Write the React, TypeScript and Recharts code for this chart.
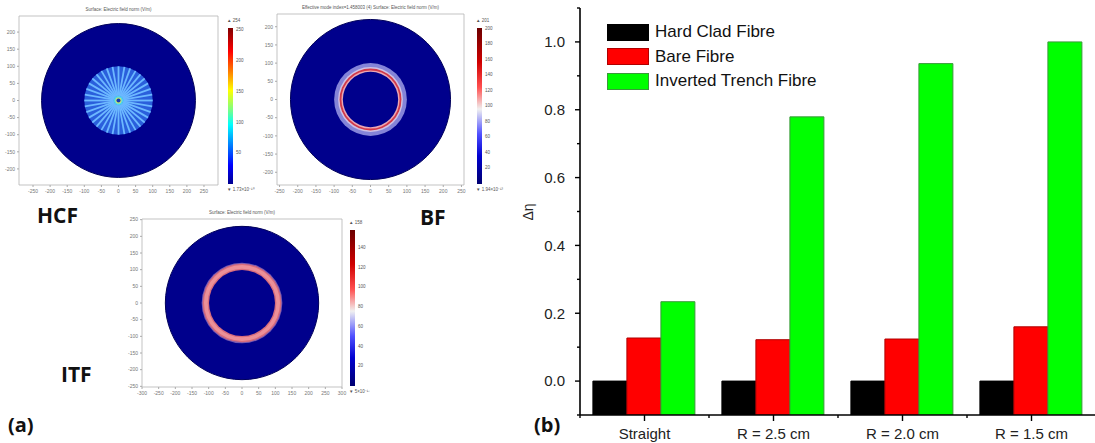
import { BarChart, Bar, XAxis, YAxis, Legend, ScatterChart, Scatter, ReferenceArea } from 'recharts'

// ---- panel (b) data ----
const categories = ['Straight', 'R = 2.5 cm', 'R = 2.0 cm', 'R = 1.5 cm']
const hardCladFibre = [0, 0, 0, 0]
const bareFibre = [0.127, 0.122, 0.124, 0.16]
const invertedTrenchFibre = [0.234, 0.779, 0.936, 1.0]
const yMajorTicks = [0, 0.2, 0.4, 0.6, 0.8, 1.0]
const yMinorTicks = [-0.1, 0.1, 0.3, 0.5, 0.7, 0.9, 1.1]
const Y_MIN = -0.1
const Y_MAX = 1.1

// ---- panel (a) field maps: concentric layers in µm ----
const hcfLayers = [
  { x: 0, y: 0, r: 225, fill: '#00008c', stroke: '#00005a' },
  { x: 0, y: 0, r: 100, fill: '#2a5fdc' },
  { x: 0, y: 0, r: 100, r0: 14, spokes: 36, stroke: '#6cb8ff' },
  { x: 0, y: 0, r: 14, fill: '#4fd0f0' },
  { x: 0, y: 0, r: 9, fill: '#c8ec70' },
  { x: 0, y: 0, r: 6, fill: '#1838b0' },
]
const bfLayers = [
  { x: 0, y: 0, r: 220, fill: '#00008c', stroke: '#00005a' },
  { x: 0, y: 0, r: 100, fill: '#8484d8' },
  { x: 0, y: 0, r: 89, fill: '#cfc0e4' },
  { x: 0, y: 0, r: 85, fill: '#d23848' },
  { x: 0, y: 0, r: 80, fill: '#eaa6b4' },
  { x: 0, y: 0, r: 76, fill: '#00008c' },
]
const itfLayers = [
  { x: 0, y: 0, r: 230, fill: '#00008c', stroke: '#00005a' },
  { x: 0, y: 0, r: 121, fill: '#7a5ab0' },
  { x: 0, y: 0, r: 118, fill: '#d86c7c' },
  { x: 0, y: 0, r: 114, fill: '#ec9098' },
  { x: 0, y: 0, r: 103, fill: '#d86c7c' },
  { x: 0, y: 0, r: 99, fill: '#00008c' },
]
const ticks250 = [-250, -200, -150, -100, -50, 0, 50, 100, 150, 200, 250]
const ticks200 = [-200, -150, -100, -50, 0, 50, 100, 150, 200]
const ticks300 = [-300, -250, -200, -150, -100, -50, 0, 50, 100, 150, 200, 250, 300]

const hcfBarTicks = [250, 200, 150, 100, 50]
const bfBarTicks = [200, 180, 160, 140, 120, 100, 80, 60, 40, 20]
const itfBarTicks = [140, 120, 100, 80, 60, 40, 20]

const series = [
  { key: 'hcf', name: 'Hard Clad Fibre', fill: '#000000', stroke: '#000000' },
  { key: 'bf', name: 'Bare Fibre', fill: '#ff0000', stroke: '#b00000' },
  { key: 'itf', name: 'Inverted Trench Fibre', fill: '#00ff00', stroke: '#3a9a3a' },
]

const rows = categories.map((name, i) => ({
  name,
  hcf: hardCladFibre[i],
  bf: bareFibre[i],
  itf: invertedTrenchFibre[i],
}))

const CHART_W = 556
const CHART_H = 443
const MARGIN = { top: 8, right: 0, left: 8, bottom: 8 }
const Y_AXIS_W = 32
const BAND = (CHART_W - MARGIN.left - MARGIN.right - Y_AXIS_W) / categories.length
const FONT = '"Liberation Sans", Arial, sans-serif'

function YTick(props: any) {
  const { x, y, payload } = props
  const v = payload.value
  const major = yMajorTicks.some((t) => Math.abs(t - v) < 1e-9)
  const ax = x + 15
  return (
    <g>
      <line x1={ax - (major ? 5 : 3)} x2={ax} y1={y} y2={y} stroke="#000" strokeWidth={1.4} />
      {major && (
        <text x={x} y={y} dy="0.35em" textAnchor="end" fontSize={15} fill="#222" fontFamily={FONT}>
          {v.toFixed(1)}
        </text>
      )}
    </g>
  )
}

function XTick(props: any) {
  const { x, y, payload, index } = props
  const ay = y - 13
  const half = BAND / 2
  return (
    <g>
      <line x1={x} x2={x} y1={ay} y2={ay + 6} stroke="#000" strokeWidth={1.4} />
      <line x1={x - half} x2={x - half} y1={ay} y2={ay + 3} stroke="#000" strokeWidth={1.4} />
      {index === categories.length - 1 && (
        <line x1={x + half} x2={x + half} y1={ay} y2={ay + 3} stroke="#000" strokeWidth={1.4} />
      )}
      <text x={x} y={y} dy="0.71em" textAnchor="middle" fontSize={15} fill="#222" fontFamily={FONT}>
        {payload.value}
      </text>
    </g>
  )
}

function LegendBox(props: any) {
  const items = [...(props.payload || [])].sort(
    (a: any, b: any) =>
      series.findIndex((s) => s.name === a.value) - series.findIndex((s) => s.name === b.value)
  )
  return (
    <div style={{ fontFamily: FONT, fontSize: 17, color: '#111' }}>
      {items.map((p: any, i: number) => {
        const s = series.find((d) => d.name === p.value)
        return (
          <div key={i} style={{ display: 'flex', alignItems: 'center', height: 24.5 }}>
            <span
              style={{
                display: 'inline-block',
                width: 40,
                height: 15,
                background: p.color,
                border: `1px solid ${s ? s.stroke : '#333'}`,
                marginRight: 6,
              }}
            />
            <span>{p.value}</span>
          </div>
        )
      })}
    </div>
  )
}

function Colorbar({ left, top, height, gradient, max, ticks, maxLabel, minLabel }: any) {
  return (
    <div style={{ position: 'absolute', left, top: top - 10, fontFamily: FONT, fontSize: 4.5, color: '#555' }}>
      <div style={{ position: 'absolute', left: -1, top: 0, whiteSpace: 'nowrap' }}>{'\u25B2 ' + maxLabel}</div>
      <div style={{ position: 'absolute', left: 0, top: 10, width: 5, height, background: gradient }} />
      {ticks.map((t: number) => (
        <div
          key={t}
          style={{ position: 'absolute', left: 8, top: 10 + (1 - t / max) * height - 3, whiteSpace: 'nowrap' }}
        >
          {t}
        </div>
      ))}
      <div style={{ position: 'absolute', left: -1, top: height + 12, whiteSpace: 'nowrap' }}>
        {'\u25BC ' + minLabel}
      </div>
    </div>
  )
}

function FieldPlot({ frame, xDomain, yDomain, xTicks, yTicks, layers, title }: any) {
  const [fx, fy, fw, fh] = frame
  const padL = 16
  const padB = 12
  const padT = 2
  const padR = 8
  const ppu = fw / (xDomain[1] - xDomain[0])
  const shape = (p: any) => {
    const d = p.payload
    const r = d.r * ppu
    if (d.spokes) {
      const r0 = d.r0 * ppu
      const lines = []
      for (let k = 0; k < d.spokes; k++) {
        const a = (k / d.spokes) * Math.PI * 2
        lines.push(
          <line
            key={k}
            x1={p.cx + r0 * Math.cos(a)}
            y1={p.cy + r0 * Math.sin(a)}
            x2={p.cx + r * Math.cos(a)}
            y2={p.cy + r * Math.sin(a)}
            stroke={d.stroke}
            strokeWidth={1.8}
          />
        )
      }
      return <g>{lines}</g>
    }
    return <circle cx={p.cx} cy={p.cy} r={r} fill={d.fill} stroke={d.stroke || 'none'} strokeWidth={1} />
  }
  const axisTick = { fontSize: 5, fill: '#777', fontFamily: FONT }
  return (
    <div style={{ position: 'absolute', left: fx - padL, top: fy - padT }}>
      <div
        style={{
          position: 'absolute',
          left: padL,
          width: fw,
          top: -7,
          textAlign: 'center',
          fontSize: 4.5,
          color: '#555',
          fontFamily: FONT,
          whiteSpace: 'nowrap',
        }}
      >
        {title}
      </div>
      <ScatterChart
        width={fw + padL + padR}
        height={fh + padT + padB}
        margin={{ top: padT, right: padR, left: 0, bottom: 0 }}
      >
        <XAxis
          type="number"
          dataKey="x"
          domain={xDomain}
          ticks={xTicks}
          interval={0}
          allowDataOverflow
          height={padB}
          tick={axisTick}
          tickSize={2}
          tickLine={{ stroke: '#aaa' }}
          axisLine={false}
        />
        <YAxis
          type="number"
          dataKey="y"
          domain={yDomain}
          ticks={yTicks}
          interval={0}
          allowDataOverflow
          width={padL}
          tick={axisTick}
          tickSize={2}
          tickLine={{ stroke: '#aaa' }}
          axisLine={false}
        />
        <ReferenceArea
          x1={xDomain[0]}
          x2={xDomain[1]}
          y1={yDomain[0]}
          y2={yDomain[1]}
          fill="#ffffff"
          fillOpacity={0}
          stroke="#b4b4b4"
          strokeWidth={0.8}
        />
        <Scatter data={layers} shape={shape} isAnimationActive={false} />
      </ScatterChart>
    </div>
  )
}

const JET =
  'linear-gradient(to bottom, #7f0000 0%, #ff0000 15%, #ff8000 28%, #ffff00 40%, #80ff80 52%, #00ffff 62%, #0080ff 75%, #0000ff 88%, #00008f 100%)'
const WAVE =
  'linear-gradient(to bottom, #6b0000 0%, #d00000 22%, #ff5050 38%, #f0f0f0 52%, #5050ff 68%, #0000d0 82%, #000070 100%)'

export default function App() {
  return (
    <div
      style={{
        position: 'absolute',
        left: 0,
        top: 0,
        width: 1095,
        height: 443,
        background: '#fff',
        overflow: 'hidden',
      }}
    >
      {/* panel (a) */}
      <FieldPlot
        frame={[19, 16, 199, 169]}
        xDomain={[-291, 291]}
        yDomain={[-247, 247]}
        xTicks={ticks250}
        yTicks={ticks200}
        layers={hcfLayers}
        title="Surface: Electric field norm (V/m)"
      />
      <Colorbar left={228} top={28} height={156} gradient={JET} max={254} ticks={hcfBarTicks} maxLabel="254" minLabel="1.73×10⁻¹⁰" />
      <FieldPlot
        frame={[277, 14, 187, 171]}
        xDomain={[-257, 257]}
        yDomain={[-235, 235]}
        xTicks={ticks250}
        yTicks={ticks200}
        layers={bfLayers}
        title="Effective mode index=1.458003 (4)    Surface: Electric field norm (V/m)"
      />
      <Colorbar left={477} top={28} height={156} gradient={WAVE} max={201} ticks={bfBarTicks} maxLabel="201" minLabel="1.94×10⁻¹³" />
      <FieldPlot
        frame={[142, 219, 200, 168]}
        xDomain={[-300, 300]}
        yDomain={[-252, 252]}
        xTicks={ticks300}
        yTicks={ticks250}
        layers={itfLayers}
        title="Surface: Electric field norm (V/m)"
      />
      <Colorbar left={350} top={230} height={156} gradient={WAVE} max={158} ticks={itfBarTicks} maxLabel="158" minLabel="5×10⁻¹⁷" />

      {/* panel (b) */}
      <div style={{ position: 'absolute', left: 540, top: 0 }}>
        <BarChart
          width={CHART_W}
          height={CHART_H}
          data={rows}
          margin={MARGIN}
          barCategoryGap="10%"
          barGap={0}
        >
          <XAxis
            dataKey="name"
            height={20}
            tickSize={6}
            tickMargin={7}
            tickLine={false}
            tick={<XTick />}
            axisLine={{ stroke: '#000', strokeWidth: 1.6 }}
            interval={0}
          />
          <YAxis
            type="number"
            domain={[Y_MIN, Y_MAX]}
            ticks={[...yMinorTicks, ...yMajorTicks].sort((a, b) => a - b)}
            interval={0}
            allowDataOverflow
            width={Y_AXIS_W}
            tickSize={5}
            tickMargin={10}
            tickLine={false}
            tick={<YTick />}
            axisLine={{ stroke: '#000', strokeWidth: 1.6 }}
          />
          <Legend
            layout="vertical"
            verticalAlign="middle"
            align="center"
            wrapperStyle={{ left: 67, top: 20, width: 'auto', height: 'auto' }}
            content={<LegendBox />}
          />
          {series.map((s) => (
            <Bar
              key={s.key}
              name={s.name}
              dataKey={(d: any) => [Y_MIN, d[s.key]]}
              fill={s.fill}
              stroke={s.stroke}
              strokeWidth={1}
              isAnimationActive={false}
            />
          ))}
        </BarChart>
      </div>

      {/* free labels */}
      <svg
        width={1095}
        height={443}
        style={{ position: 'absolute', left: 0, top: 0, pointerEvents: 'none' }}
      >
        <g fontFamily='"Open Sans", "Liberation Sans", sans-serif' fontWeight={700} fill="#111">
          <text x={37} y={223} fontSize={21}>HCF</text>
          <text x={420} y={225} fontSize={21}>BF</text>
          <text x={61} y={382} fontSize={21}>ITF</text>
          <text x={8} y={432} fontSize={20}>(a)</text>
          <text x={534} y={432} fontSize={20}>(b)</text>
        </g>
        <text
          x={533}
          y={212}
          fontSize={14}
          fill="#222"
          fontFamily={FONT}
          textAnchor="middle"
          transform="rotate(-90 533 212)"
        >
          Δη
        </text>
      </svg>
    </div>
  )
}
